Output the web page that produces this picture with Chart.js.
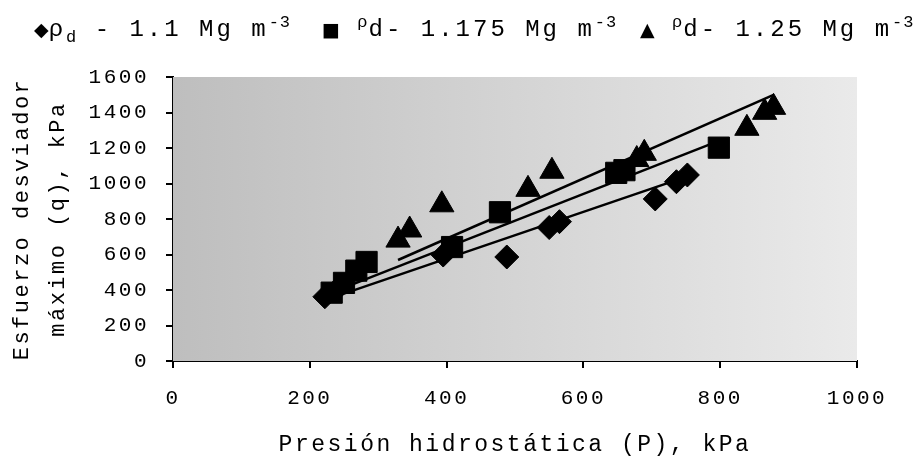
<!DOCTYPE html>
<html><head><meta charset="utf-8">
<script src="https://cdn.jsdelivr.net/npm/chart.js@4"></script>
<style>
html,body{margin:0;padding:0;background:#fff;}
#wrap{position:relative;width:924px;height:463px;overflow:hidden;}
canvas{position:absolute;left:0;top:0;}
.lg{position:absolute;top:8px;font-family:"Liberation Mono","Courier New",monospace;font-size:24px;letter-spacing:3px;color:#000;white-space:nowrap;line-height:30px;}
.lg sub,.lg sup{font-size:17px;letter-spacing:1px;}
.mk{font-family:"DejaVu Sans",sans-serif;font-size:19px;letter-spacing:0;}
</style></head>
<body>
<div id="wrap">
<canvas id="c" width="924" height="463"></canvas>
<div class="lg" style="left:34px"><span class="mk">◆</span>ρ<sub>d</sub> - 1.1 Mg m<sup>-3</sup></div>
<div class="lg" style="left:322px"><span class="mk">■</span> <sup>ρ</sup>d- 1.175 Mg m<sup>-3</sup></div>
<div class="lg" style="left:640px"><span class="mk">▲</span> <sup>ρ</sup>d- 1.25 Mg m<sup>-3</sup></div>
</div>
<script>
// Data
const seriesNames = ['ρd - 1.1 Mg m-3', 'ρd- 1.175 Mg m-3', 'ρd- 1.25 Mg m-3'];
const p11 = [222, 240, 395, 488, 550, 565, 705, 736, 752];
const q11 = [362, 405, 597, 586, 752, 785, 913, 1010, 1048];
const p1175 = [232, 250, 268, 283, 408, 478, 648, 660, 798];
const q1175 = [385, 440, 509, 558, 642, 838, 1060, 1075, 1202];
const p125 = [329, 346, 393, 519, 554, 678, 689, 839, 865, 878];
const q125 = [681, 738, 880, 967, 1069, 1135, 1170, 1311, 1401, 1429];
// Trend line end points
const trendP11 = [220, 752];   const trendQ11 = [340, 1040];
const trendP1175 = [228, 798]; const trendQ1175 = [380, 1240];
const trendP125 = [329, 878];  const trendQ125 = [569, 1499];
const xTicks = [0, 200, 400, 600, 800, 1000];
const yTicks = [0, 200, 400, 600, 800, 1000, 1200, 1400, 1600];
const xTitle = 'Presión hidrostática (P), kPa';
const yTitle = ['Esfuerzo desviador', 'máximo (q), kPa'];

const pts = (xs, ys) => xs.map((x, i) => ({x: x, y: ys[i]}));
const FONT = "'Liberation Mono', 'Courier New', monospace";

const setSpacing = chart => { chart.ctx.letterSpacing = '2.5px'; };
const bgPlugin = {
  id: 'bg',
  beforeUpdate: setSpacing,
  beforeLayout: setSpacing,
  beforeDraw: setSpacing,
  beforeDatasetsDraw(chart) {
    const {ctx, chartArea: a} = chart;
    ctx.save();
    const g = ctx.createLinearGradient(a.left, 0, a.right, 0);
    g.addColorStop(0, 'rgb(190,190,190)');
    g.addColorStop(1, 'rgb(234,234,234)');
    ctx.fillStyle = g;
    ctx.fillRect(a.left, a.top, a.right - a.left, a.bottom - a.top);
    ctx.restore();
  }
};

const markerDs = (label, data, style, r) => ({
  label, data, pointStyle: style, pointRadius: r, pointHoverRadius: r,
  backgroundColor: '#000', borderColor: '#000', borderWidth: 1, showLine: false
});
const trendDs = (data) => ({
  data, showLine: true, pointRadius: 0, borderColor: '#000', borderWidth: 2.5, fill: false
});

new Chart(document.getElementById('c'), {
  type: 'scatter',
  data: {
    datasets: [
      markerDs(seriesNames[0], pts(p11, q11), 'rectRot', 12),
      markerDs(seriesNames[1], pts(p1175, q1175), 'rect', 15),
      markerDs(seriesNames[2], pts(p125, q125), 'triangle', 14),
      trendDs(pts(trendP11, trendQ11)),
      trendDs(pts(trendP1175, trendQ1175)),
      trendDs(pts(trendP125, trendQ125))
    ]
  },
  plugins: [bgPlugin],
  options: {
    responsive: false, animation: false, devicePixelRatio: 1,
    layout: {padding: {top: 77, right: 67, left: 0, bottom: 0}},
    plugins: {legend: {display: false}, tooltip: {enabled: false}},
    scales: {
      x: {
        type: 'linear', min: 0, max: 1000,
        afterBuildTicks: s => { s.ticks = xTicks.map(v => ({value: v})); },
        afterFit: s => { s.height = 102; },
        ticks: {color: '#000', font: {family: FONT, size: 21}, padding: 18, maxRotation: 0, callback: v => String(v)},
        grid: {drawOnChartArea: false, drawTicks: true, tickLength: 7, color: '#000', lineWidth: 2},
        border: {color: '#000', width: 2},
        title: {display: true, text: xTitle, color: '#000', font: {family: FONT, size: 23}, padding: {top: 0, bottom: 4}}
      },
      y: {
        type: 'linear', min: 0, max: 1600,
        afterBuildTicks: s => { s.ticks = yTicks.map(v => ({value: v})); },
        afterFit: s => { s.width = 173; },
        ticks: {color: '#000', font: {family: FONT, size: 21}, padding: 17, callback: v => String(v)},
        grid: {drawOnChartArea: false, drawTicks: true, tickLength: 7, color: '#000', lineWidth: 2},
        border: {color: '#000', width: 2},
        title: {display: true, text: yTitle, color: '#000', font: {family: FONT, size: 22, lineHeight: 1.64}, padding: {top: 4, bottom: 0}}
      }
    }
  }
});
</script>
</body></html>
